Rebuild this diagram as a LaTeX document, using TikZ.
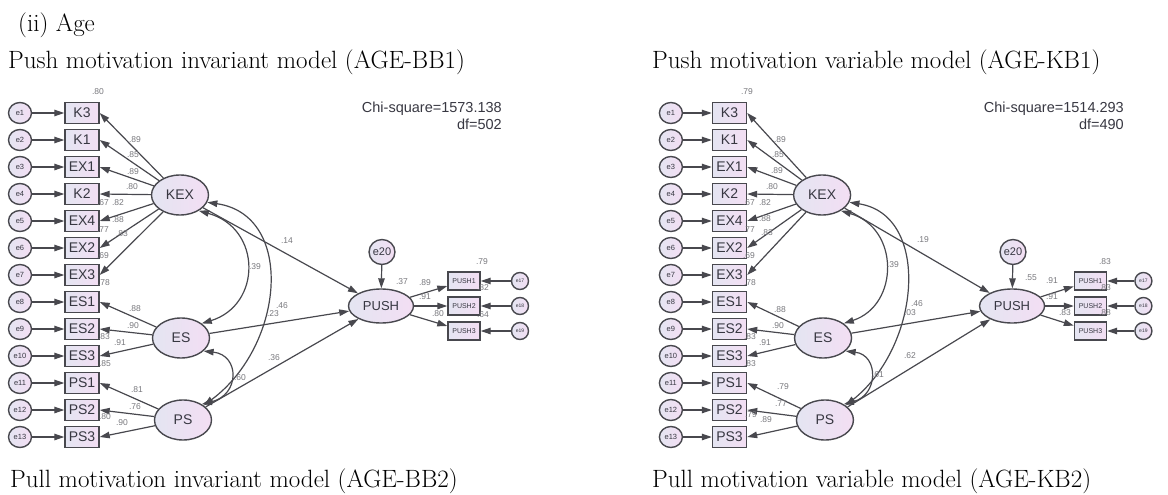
\documentclass[tikz,border=0pt]{standalone}
\usepackage{fontspec}
\newfontfamily\amos{Liberation Sans}
\usetikzlibrary{arrows.meta,shapes.geometric}
\definecolor{semline}{RGB}{72,72,78}
\definecolor{semleft}{RGB}{228,229,242}
\definecolor{semright}{RGB}{243,222,243}
\definecolor{semtext}{RGB}{55,55,65}
\definecolor{semnum}{RGB}{120,120,125}

\begin{document}
\begin{tikzpicture}[x=1pt,y=-1pt,
    semvar/.style={draw=semline,line width=1.4pt,left color=semleft,right color=semright,text=semtext,inner sep=0pt},
    obs/.style={semvar,rectangle,minimum width=34pt,minimum height=21pt,font=\amos\fontsize{14}{16}\selectfont},
    lat/.style={semvar,ellipse,minimum width=57pt,minimum height=40pt,font=\amos\fontsize{14}{16}\selectfont},
    err/.style={semvar,ellipse,minimum width=23pt,minimum height=21pt,font=\amos\fontsize{7.5}{8}\selectfont},
    arrowline/.style={draw=semline,line width=1.2pt,-{Triangle[length=10pt,width=6.5pt]}},
    cov/.style={draw=semline,line width=1.2pt,{Triangle[length=10pt,width=6.5pt]}-{Triangle[length=10pt,width=6.5pt]}},
    num/.style={text=semnum,font=\amos\fontsize{8.5}{9}\selectfont,inner sep=0pt},
    chi/.style={text=semtext,font=\amos\fontsize{14.5}{16}\selectfont,inner sep=0pt,anchor=base east},
    headline/.style={font=\fontsize{25}{28}\selectfont,inner sep=0pt,anchor=base west}]

\useasboundingbox (0,0) rectangle (1168,495);

% captions
\node[headline] (age) at (18,32) {(ii) Age};
\node[headline] (capBB1) at (8,69) {Push motivation invariant model (AGE-BB1)};
\node[headline] (capKB1) at (652,69) {Push motivation variable model (AGE-KB1)};
\node[headline] (capBB2) at (10,487) {Pull motivation invariant model (AGE-BB2)};
\node[headline] (capKB2) at (652,487) {Pull motivation variable model (AGE-KB2)};

% both models share one layout
\foreach \m/\dx/\sx in {L/0pt/1,R/652pt/0.945} {
  \begin{scope}[xshift=\dx,xscale=\sx]
    \foreach \v [count=\i] in {K3,K1,EX1,K2,EX4,EX2,EX3,ES1,ES2,ES3,PS1,PS2,PS3} {
      \node[err] (\m e\i) at (20,86+27*\i) {e\i};
      \node[obs] (\m\v) at (82,86+27*\i) {\v};
      \draw[arrowline] (\m e\i) -- (\m\v);
    }

    \node[lat] (\m KEX) at (180,195) {KEX};
    \node[lat] (\m ES)  at (181,338) {ES};
    \node[lat] (\m PS)  at (183,420) {PS};
    \node[lat,minimum width=65pt,minimum height=34pt,font=\amos\fontsize{13}{15}\selectfont] (\m PUSH) at (381,306) {PUSH};
    \node[err,minimum width=25pt,minimum height=25pt,font=\amos\fontsize{11}{12}\selectfont] (\m e20) at (382,252) {e20};

    \foreach \v in {K3,K1,EX1,K2,EX4,EX2,EX3}
      \draw[arrowline] (\m KEX) -- (\m\v.east);
    \foreach \v in {ES1,ES2,ES3}
      \draw[arrowline] (\m ES) -- (\m\v.east);
    \foreach \v in {PS1,PS2,PS3}
      \draw[arrowline] (\m PS) -- (\m\v.east);

    \foreach \i/\k/\y in {1/17/281,2/18/306,3/19/331} {
      \node[obs,minimum width=32pt,minimum height=18pt,font=\amos\fontsize{7}{8}\selectfont] (\m PUSH\i) at (464,\y) {PUSH\i};
      \node[err,minimum width=17pt,minimum height=17pt,font=\amos\fontsize{5}{6}\selectfont] (\m e\k) at (520,\y) {e\k};
      \draw[arrowline] (\m PUSH) -- (\m PUSH\i);
      \draw[arrowline] (\m e\k) -- (\m PUSH\i);
    }

    \draw[arrowline] (\m e20) -- (\m PUSH);
    \draw[arrowline] (\m KEX) -- (\m PUSH);
    \draw[arrowline] (\m ES) -- (\m PUSH);
    \draw[arrowline] (\m PS.30) -- (\m PUSH);

    \draw[cov] (\m KEX.-40) .. controls (262,228) and (262,305) .. (\m ES.35);
    \draw[cov] (\m KEX.-15) .. controls (295,215) and (285,345) .. (\m PS.35);
    \draw[cov] (\m ES.-30) .. controls (240,355) and (240,395) .. (\m PS.40);
  \end{scope}
}

% estimates, invariant model
\foreach \x/\y/\t [count=\n] in {98/92/.80,135/140/.89,133/155/.85,133/172/.89,132/187/.80,
    103/203/.67,118/203/.82,118/220/.88,103/230/.77,122/234/.83,103/256/.69,104/283/.78,
    135/309/.88,133/326/.90,120/343/.91,104/337/.83,105/364/.85,
    137/390/.81,135/407/.76,122/423/.90,105/417/.80,
    255/267/.39,282/306/.46,273/314/.23,274/358/.36,240/378/.60,287/241/.14,
    402/282/.37,425/283/.89,425/297/.91,438/314/.80,482/262/.79,483/288/.82,483/315/.64}
  \node[num] (Ln\n) at (\x,\y) {\t};
\node[chi] (Lchi) at (502,112) {Chi-square=1573.138};
\node[chi] (Ldf) at (502,129) {df=502};

% estimates, variable model
\foreach \x/\y/\t [count=\n] in {747/92/.79,780/140/.89,778/155/.85,777/171/.89,772/187/.80,
    749/203/.67,765/203/.82,765/219/.88,749/230/.77,767/233/.83,749/256/.69,750/283/.78,
    780/310/.88,778/326/.90,765/343/.91,750/337/.83,750/364/.83,
    783/387/.79,781/404/.77,766/420/.89,751/415/.79,
    893/265/.39,917/304/.46,910/313/.03,910/356/.62,878/375/.61,923/240/.19,
    1031/278/.55,1052/281/.91,1052/297/.91,1065/313/.83,1105/262/.83,1105/288/.83,1105/313/.88}
  \node[num] (Rn\n) at (\x,\y) {\t};
\node[chi] (Rchi) at (1124,112) {Chi-square=1514.293};
\node[chi] (Rdf) at (1124,129) {df=490};

\end{tikzpicture}
\end{document}
